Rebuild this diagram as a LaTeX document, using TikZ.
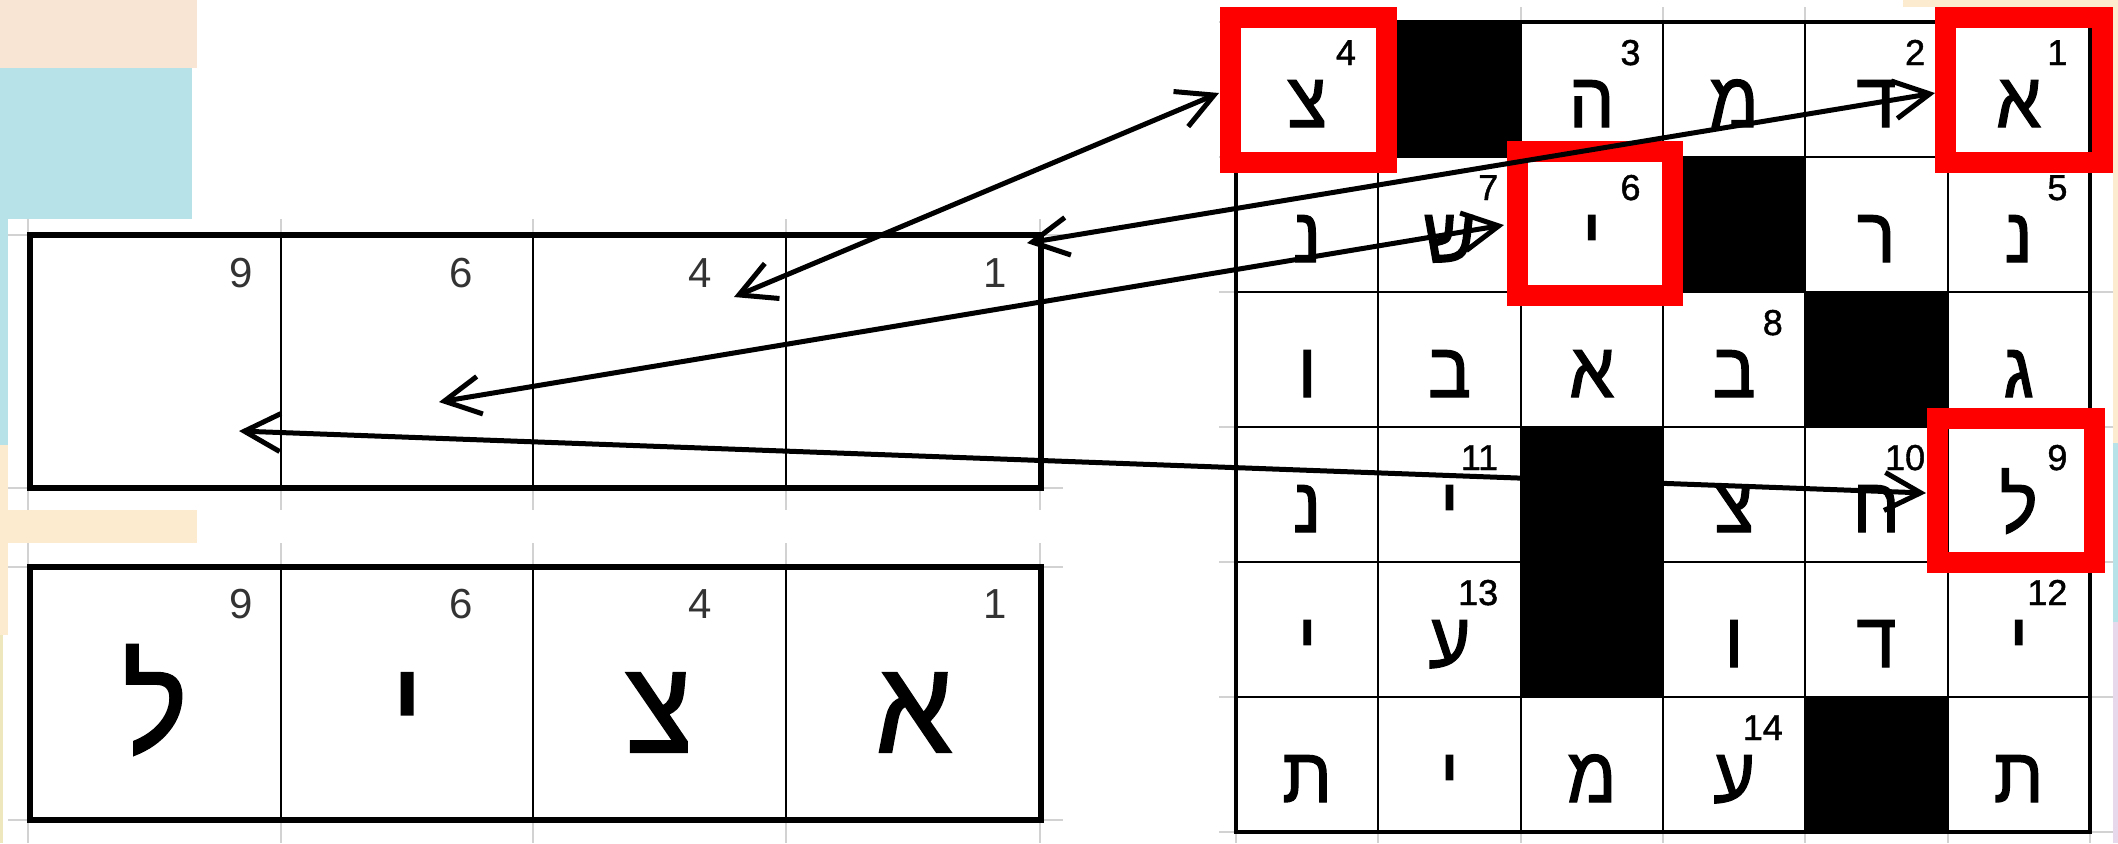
\documentclass[tikz,border=0pt]{standalone}
\usepackage{fontspec}
\setmainfont{Liberation Sans}
\newfontfamily\hebfont[Script=Hebrew, FakeStretch=0.92, FakeBold=1.6]{Liberation Sans}
\newfontfamily\numfont[FakeBold=1.2]{Liberation Sans}
\usetikzlibrary{arrows.meta}
\TeXXeTstate=1
\definecolor{peach}{HTML}{F9E5D3}
\definecolor{peachlt}{HTML}{FDEBD0}
\definecolor{cyanbg}{HTML}{B7E3E8}
\definecolor{paleyel}{HTML}{EEE6BC}
\definecolor{lav}{HTML}{E8D8EC}
\definecolor{gridgray}{HTML}{D2D2D2}
\definecolor{numgray}{HTML}{333333}
\definecolor{hlred}{HTML}{FF0000}
\tikzset{
  gridline/.style={gridgray, line width=1pt},
  boxframe/.style={line width=3pt},
  boxdiv/.style={line width=1.25pt},
  cellline/.style={line width=1pt},
  cellframe/.style={line width=1.75pt},
  gletter/.style={anchor=base, inner sep=0pt, font=\hebfont\fontsize{39}{39}\selectfont},
  gnum/.style={anchor=base east, inner sep=0pt, font=\numfont\fontsize{18}{18}\selectfont},
  bletter/.style={anchor=base, inner sep=0pt, font=\hebfont\fontsize{66}{66}\selectfont},
  bnum/.style={anchor=base east, inner sep=0pt, text=numgray, font=\fontsize{21}{21}\selectfont},
  redbox/.style={draw=hlred, line width=10.5pt},
  link/.style={line width=2.5pt, {Straight Barb[length=18pt,width=19pt]}-{Straight Barb[length=18pt,width=19pt]}}
}
\begin{document}
\begin{tikzpicture}[x=0.5pt,y=-0.5pt]
\useasboundingbox (0,0) rectangle (2118,843);
\fill[white] (0,0) rectangle (2118,843);
% background colour patches
\fill[peach] (0,0) rectangle (197,68);
\fill[cyanbg] (0,68) rectangle (192,219);
\fill[cyanbg] (0,219) rectangle (7.5,445);
\fill[peachlt] (0,445) rectangle (8,635);
\fill[peachlt] (0,510) rectangle (197,543);
\fill[paleyel] (0,635) rectangle (3,843);
\fill[peachlt] (1903,0) rectangle (2118,7);
\fill[peachlt] (2113,7) rectangle (2118,443);
\fill[cyanbg] (2113,443) rectangle (2118,622);
\fill[lav] (2113,622) rectangle (2118,843);
% spreadsheet grid stubs, left
\foreach \x in {28,281,533,786,1040}{
  \draw[gridline] (\x,219) -- (\x,235);
  \draw[gridline] (\x,488) -- (\x,510);
  \draw[gridline] (\x,543) -- (\x,567);
  \draw[gridline] (\x,820) -- (\x,843);
}
\foreach \y in {235,488,567,820}{
  \draw[gridline] (8,\y) -- (30,\y);
  \draw[gridline] (1040,\y) -- (1063,\y);
}
% spreadsheet grid stubs, right
\foreach \i in {0,...,6}{
  \draw[gridline] ({1236+142.3*\i},7) -- ({1236+142.3*\i},22);
  \draw[gridline] ({1236+142.3*\i},832) -- ({1236+142.3*\i},843);
  \draw[gridline] (1219,{22+135*\i}) -- (1236,{22+135*\i});
  \draw[gridline] (2090,{22+135*\i}) -- (2113,{22+135*\i});
}
% answer boxes
\foreach \y in {235,567}{
  \foreach \x in {281,533,786}{
    \draw[boxdiv] (\x,\y) -- (\x,{\y+253});
  }
  \draw[boxframe] (30,\y) rectangle (1041,{\y+253});
}
% numbers in answer boxes
\node[bnum] (an9) at (253,287) {9};
\node[bnum] (an6) at (473,287) {6};
\node[bnum] (an4) at (712,287) {4};
\node[bnum] (an1) at (1007,287) {1};
\node[bnum] (bn9) at (253,618) {9};
\node[bnum] (bn6) at (473,618) {6};
\node[bnum] (bn4) at (712,618) {4};
\node[bnum] (bn1) at (1007,618) {1};
% letters in answer box
\node[bletter] (bl9) at (155,752) {ל};
\node[bletter] (bl6) at (407,752) {י};
\node[bletter] (bl4) at (659,752) {צ};
\node[bletter] (bl1) at (914,752) {א};
% crossword black cells
\foreach \c/\r in {2/1,4/2,5/3,3/4,3/5,5/6}{
  \fill ({1236+142.3*(\c-1)},{22+135*(\r-1)}) rectangle +(142.3,135);
}
% crossword lines
\foreach \i in {1,...,5}{
  \draw[cellline] ({1236+142.3*\i},22) -- ({1236+142.3*\i},832);
  \draw[cellline] (1236,{22+135*\i}) -- (2090,{22+135*\i});
}
\draw[cellframe] (1236,22) rectangle (2090,832);
% crossword letters
\foreach \r/\c/\l in {1/1/צ,1/3/ה,1/4/מ,1/5/ד,1/6/א,
  2/1/נ,2/2/ש,2/3/י,2/5/ר,2/6/נ,
  3/1/ו,3/2/ב,3/3/א,3/4/ב,3/6/ג,
  4/1/נ,4/2/י,4/4/צ,4/5/ח,4/6/ל,
  5/1/י,5/2/ע,5/4/ו,5/5/ד,5/6/י,
  6/1/ת,6/2/י,6/3/מ,6/4/ע,6/6/ת}{
  \node[gletter] (g\r\c) at ({1236+142.3*(\c-0.5)},{22+135*(\r-1)+105}) {\l};
}
% crossword numbers
\foreach \r/\c/\n in {1/6/1,1/5/2,1/3/3,1/1/4,2/6/5,2/3/6,2/2/7,3/4/8,
  4/6/9,4/5/10,4/2/11,5/6/12,5/2/13,6/4/14}{
  \node[gnum] (gn\n) at ({1236+142.3*\c-22},{22+135*(\r-1)+43}) {\n};
}
% red highlights
\draw[redbox] (1230,17.5) rectangle (1386,162);
\draw[redbox] (1945,17.5) rectangle (2102,162);
\draw[redbox] (1517,151) rectangle (1672,295);
\draw[redbox] (1937,418) rectangle (2094,562);
% arrow ends
\coordinate (p4) at (734,297);
\coordinate (q4) at (1219,93);
\coordinate (p1) at (1027,243);
\coordinate (q1) at (1935,93);
\coordinate (p6) at (439,402);
\coordinate (q6) at (1504,225);
\coordinate (p9) at (239,431);
\coordinate (q9) at (1926,493);
\draw[link] (p4) -- (q4);
\draw[link] (p1) -- (q1);
\draw[link] (p6) -- (q6);
\draw[link] (p9) -- (q9);
\end{tikzpicture}
\end{document}
